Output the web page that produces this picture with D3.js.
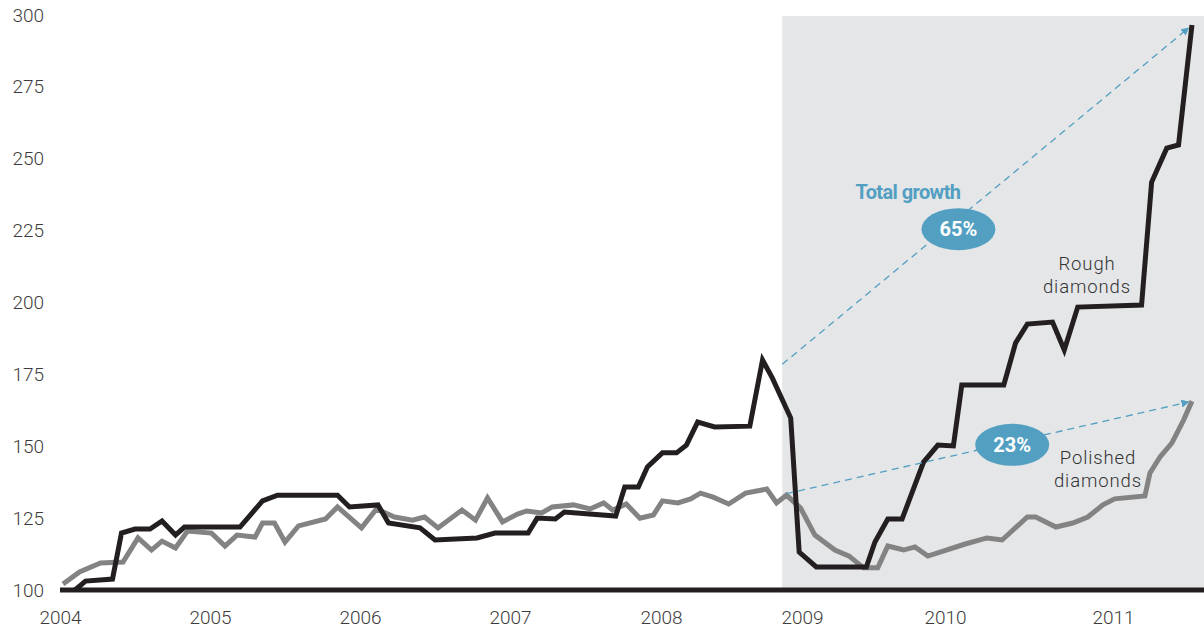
<!DOCTYPE html>
<html>
<head>
<meta charset="utf-8">
<script src="https://cdn.jsdelivr.net/npm/d3@7"></script>
<style>
  body { margin: 0; background: #fff; }
  svg text { font-family: Roboto, "Noto Sans", sans-serif; }
</style>
</head>
<body>
<script>
// year ticks and value ticks
const years = [2004, 2005, 2006, 2007, 2008, 2009, 2010, 2011];
const yearPos = [60, 210, 360, 510, 661, 802, 945, 1113];
const valueTicks = [100, 125, 150, 175, 200, 225, 250, 275, 300];

// rough diamonds index, [fractional year, value]
const rough = [
  [2004.10, 100.0], [2004.17, 103.1], [2004.35, 103.8], [2004.41, 119.8],
  [2004.50, 121.2], [2004.60, 121.2], [2004.68, 124.0], [2004.77, 119.1],
  [2004.83, 121.9], [2005.20, 121.9], [2005.35, 131.0], [2005.45, 133.0],
  [2005.85, 133.0], [2005.93, 128.9], [2006.12, 129.6], [2006.19, 123.3],
  [2006.40, 121.6], [2006.50, 117.4], [2006.78, 118.1], [2006.90, 119.8],
  [2007.12, 119.8], [2007.18, 125.0], [2007.30, 124.7], [2007.36, 127.1],
  [2007.70, 125.7], [2007.76, 135.8], [2007.85, 135.8], [2007.91, 142.8],
  [2008.01, 147.7], [2008.11, 147.7], [2008.18, 150.4], [2008.26, 158.4],
  [2008.38, 156.7], [2008.63, 157.0], [2008.72, 180.0], [2008.79, 173.7],
  [2008.92, 159.8], [2008.98, 113.2], [2009.10, 108.0], [2009.45, 108.0],
  [2009.51, 116.7], [2009.60, 124.7], [2009.70, 124.7], [2009.85, 144.5],
  [2009.95, 150.4], [2010.05, 150.1], [2010.10, 171.3], [2010.35, 171.3],
  [2010.42, 185.9], [2010.49, 192.5], [2010.64, 193.2], [2010.71, 183.5],
  [2010.79, 198.4], [2011.17, 199.1], [2011.23, 241.9], [2011.32, 253.7],
  [2011.39, 254.8], [2011.47, 296.5]
];

// polished diamonds index
const polished = [
  [2004.02, 102.1], [2004.13, 106.3], [2004.27, 109.4], [2004.42, 109.7],
  [2004.52, 118.1], [2004.61, 113.9], [2004.68, 117.0], [2004.77, 114.6],
  [2004.85, 120.5], [2005.01, 119.8], [2005.10, 115.3], [2005.18, 119.1],
  [2005.30, 118.4], [2005.35, 123.3], [2005.43, 123.3], [2005.50, 116.7],
  [2005.59, 122.3], [2005.77, 124.7], [2005.85, 128.9], [2006.01, 121.6],
  [2006.11, 128.2], [2006.23, 125.4], [2006.35, 124.3], [2006.43, 125.4],
  [2006.52, 121.6], [2006.68, 127.8], [2006.77, 124.3], [2006.85, 132.0],
  [2006.95, 123.7], [2007.05, 126.4], [2007.11, 127.5], [2007.21, 126.8],
  [2007.28, 128.9], [2007.42, 129.6], [2007.53, 128.2], [2007.62, 130.3],
  [2007.68, 127.8], [2007.77, 129.9], [2007.86, 125.0], [2007.95, 126.1],
  [2008.01, 131.0], [2008.12, 130.3], [2008.21, 131.7], [2008.28, 133.7],
  [2008.37, 132.3], [2008.48, 129.9], [2008.60, 133.7], [2008.75, 135.1],
  [2008.82, 130.3], [2008.89, 133.0], [2008.99, 128.5], [2009.09, 119.1],
  [2009.23, 113.9], [2009.33, 111.8], [2009.43, 107.7], [2009.53, 107.7],
  [2009.60, 115.3], [2009.71, 113.9], [2009.79, 115.0], [2009.88, 111.8],
  [2010.12, 116.0], [2010.25, 118.1], [2010.34, 117.4], [2010.49, 125.4],
  [2010.54, 125.4], [2010.66, 121.9], [2010.76, 123.3], [2010.85, 125.4],
  [2010.94, 129.6], [2011.01, 131.7], [2011.19, 132.7], [2011.22, 140.7],
  [2011.28, 146.3], [2011.35, 151.1], [2011.42, 159.1], [2011.47, 165.7]
];

// crisis period band and growth arrows
const band = [2008.86, 2011.6];
const arrows = [
  { from: [2008.86, 178.5], to: [2011.45, 295.5], label: '65%', at: [2010.08, 225.5] },
  { from: [2008.89, 133.5], to: [2011.45, 165.4], label: '23%', at: [2010.40, 150.5] }
];

const width = 1204, height = 631;
const blue = '#529fc2';

const svg = d3.select('body').append('svg')
  .attr('width', width)
  .attr('height', height);

// the year labels in the original are not evenly spaced, so piecewise
const x = d3.scaleLinear().domain(years).range(yearPos);
const y = d3.scaleLinear().domain([100, 300]).range([590, 15]);

svg.append('defs').append('marker')
  .attr('id', 'head')
  .attr('viewBox', '0 0 10 10')
  .attr('refX', 9).attr('refY', 5)
  .attr('markerWidth', 8).attr('markerHeight', 8)
  .attr('markerUnits', 'userSpaceOnUse')
  .attr('orient', 'auto')
  .append('path')
  .attr('d', 'M0,0L10,5L0,10Z')
  .attr('fill', blue);

svg.append('rect')
  .attr('x', x(band[0]))
  .attr('y', y(300) + 1)
  .attr('width', width - x(band[0]))
  .attr('height', y(100) - y(300) - 1)
  .attr('fill', '#e5e6e8');

// axes: labels only
const yAxis = svg.append('g')
  .attr('transform', 'translate(44,0)')
  .call(d3.axisLeft(y).tickValues(valueTicks).tickSize(0).tickPadding(0));
yAxis.select('.domain').remove();
yAxis.selectAll('text')
  .attr('font-size', 19)
  .attr('fill', '#3c3c3c')
  .attr('font-family', 'Roboto, sans-serif')
  .attr('font-weight', 300);

const xAxis = svg.append('g')
  .attr('transform', 'translate(0,607)')
  .call(d3.axisBottom(x).tickValues(years).tickFormat(d3.format('d')).tickSize(0).tickPadding(0));
xAxis.select('.domain').remove();
xAxis.selectAll('text')
  .attr('dy', '0.9em')
  .attr('font-size', 19)
  .attr('fill', '#3c3c3c')
  .attr('font-family', 'Roboto, sans-serif')
  .attr('font-weight', 300);

const line = d3.line()
  .x(d => x(d[0]))
  .y(d => y(d[1]));

svg.append('path')
  .datum(polished)
  .attr('d', line)
  .attr('fill', 'none')
  .attr('stroke', '#838383')
  .attr('stroke-width', 5)
  .attr('stroke-linejoin', 'miter');

svg.append('path')
  .datum(rough)
  .attr('d', line)
  .attr('fill', 'none')
  .attr('stroke', '#231f20')
  .attr('stroke-width', 5)
  .attr('stroke-linejoin', 'miter');

// baseline
svg.append('line')
  .attr('x1', x(2004)).attr('x2', width)
  .attr('y1', y(100)).attr('y2', y(100))
  .attr('stroke', '#231f20')
  .attr('stroke-width', 5);

// growth arrows
svg.selectAll('.arrow')
  .data(arrows)
  .join('line')
  .attr('class', 'arrow')
  .attr('x1', d => x(d.from[0])).attr('y1', d => y(d.from[1]))
  .attr('x2', d => x(d.to[0])).attr('y2', d => y(d.to[1]))
  .attr('stroke', blue)
  .attr('stroke-width', 1.3)
  .attr('stroke-dasharray', '7 5')
  .attr('marker-end', 'url(#head)');

const badge = svg.selectAll('.badge')
  .data(arrows)
  .join('g')
  .attr('class', 'badge')
  .attr('transform', d => `translate(${x(d.at[0])},${y(d.at[1])})`);

badge.append('ellipse')
  .attr('rx', 37).attr('ry', 21)
  .attr('fill', blue);

badge.append('text')
  .attr('text-anchor', 'middle')
  .attr('dy', '0.36em')
  .attr('font-size', 20)
  .attr('font-weight', 700)
  .attr('fill', '#fff')
  .text(d => d.label);

svg.append('text')
  .attr('x', 908).attr('y', 199)
  .attr('text-anchor', 'middle')
  .attr('font-size', 20)
  .attr('font-weight', 700)
  .attr('letter-spacing', -0.6)
  .attr('fill', blue)
  .text('Total growth');

// series labels
const seriesLabels = [
  { lines: ['Rough', 'diamonds'], x: 1087, y: 270 },
  { lines: ['Polished', 'diamonds'], x: 1098, y: 464 }
];

seriesLabels.forEach(function (s) {
  const t = svg.append('text')
    .attr('text-anchor', 'middle')
    .attr('font-size', 18.5)
    .attr('font-weight', 300)
    .attr('letter-spacing', 0.9)
    .attr('fill', '#333');
  s.lines.forEach(function (l, i) {
    t.append('tspan')
      .attr('x', s.x)
      .attr('y', s.y + i * 23)
      .text(l);
  });
});
</script>
</body>
</html>
